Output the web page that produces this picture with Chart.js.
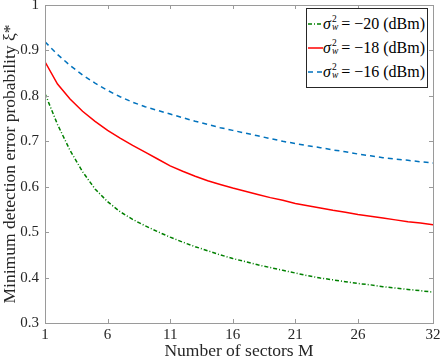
<!DOCTYPE html>
<html>
<head>
<meta charset="utf-8">
<script src="https://cdn.jsdelivr.net/npm/chart.js@4"></script>
<style>
  html, body { margin: 0; padding: 0; background: #fff; }
  #wrap { position: relative; width: 443px; height: 360px; }
  #legend {
    position: absolute; left: 306px; top: 8px; width: 120px; height: 78px;
    border: 1px solid #262626; background: #fff;
    font-family: "Liberation Serif", "DejaVu Serif", serif; font-size: 16px; color: #000;
  }
  .row { height: 24px; display: flex; align-items: center; white-space: nowrap; }
  .row:first-child { margin-top: 3px; }
  .row svg { margin-left: 1px; margin-right: 0; }
  .sym { font-style: italic; }
  .stack { display: inline-flex; flex-direction: column; font-size: 9.5px; line-height: 8px; vertical-align: middle; margin-left: 1px; margin-right: 3px; position: relative; top: -1px; }
  .stack i { font-style: italic; }
</style>
</head>
<body>
<div id="wrap">
  <canvas id="chart" width="443" height="360"></canvas>
  <div id="legend"></div>
</div>
<script>
// ====== DATA ======
const sectors = Array.from({ length: 32 }, (_, i) => i + 1); // M = 1..32
const xTicks = [1, 6, 11, 16, 21, 26, 32];

const noise20 = [0.805, 0.737, 0.680, 0.633, 0.595, 0.567, 0.545, 0.528, 0.514, 0.501,
                 0.489, 0.478, 0.468, 0.459, 0.450, 0.442, 0.435, 0.428, 0.422, 0.416,
                 0.410, 0.404, 0.399, 0.395, 0.391, 0.387, 0.384, 0.380, 0.377, 0.374,
                 0.371, 0.368];
const noise18 = [0.875, 0.826, 0.793, 0.766, 0.744, 0.724, 0.707, 0.691, 0.676, 0.661,
                 0.646, 0.634, 0.623, 0.613, 0.605, 0.597, 0.590, 0.583, 0.576, 0.570,
                 0.563, 0.558, 0.553, 0.548, 0.544, 0.539, 0.535, 0.531, 0.527, 0.523,
                 0.520, 0.516];
const noise16 = [0.919, 0.891, 0.867, 0.846, 0.828, 0.812, 0.798, 0.786, 0.776, 0.768,
                 0.760, 0.752, 0.744, 0.737, 0.730, 0.724, 0.718, 0.712, 0.706, 0.700,
                 0.695, 0.690, 0.686, 0.681, 0.677, 0.672, 0.668, 0.664, 0.661, 0.658,
                 0.655, 0.652];

const seriesLabels = ["−20", "−18", "−16"];
const seriesColors = ["#008000", "#ff0000", "#0072bd"];
const seriesDash = [[4, 2, 1, 2], [], [5, 4]];

// ====== HELPERS ======
const FONT = "'Liberation Serif', 'DejaVu Serif', serif";
const toPts = (vals) => vals.map((v, i) => ({ x: sectors[i], y: v }));

// MATLAB-like box with inward ticks
const boxPlugin = {
  id: "box",
  afterDraw(chart) {
    const { ctx, chartArea: a, scales } = chart;
    ctx.save();
    ctx.strokeStyle = "#9a9a9a";
    ctx.lineWidth = 1;
    ctx.strokeRect(a.left + 0.5, a.top + 0.5, a.right - a.left, a.bottom - a.top);
    const len = 4;
    ctx.beginPath();
    scales.x.ticks.forEach(t => {
      const px = Math.round(scales.x.getPixelForValue(t.value)) + 0.5;
      ctx.moveTo(px, a.bottom); ctx.lineTo(px, a.bottom - len);
      ctx.moveTo(px, a.top); ctx.lineTo(px, a.top + len);
    });
    scales.y.ticks.forEach(t => {
      const py = Math.round(scales.y.getPixelForValue(t.value)) + 0.5;
      ctx.moveTo(a.left, py); ctx.lineTo(a.left + len, py);
      ctx.moveTo(a.right, py); ctx.lineTo(a.right - len, py);
    });
    ctx.stroke();
    ctx.restore();
  }
};

// ====== CHART ======
new Chart(document.getElementById("chart"), {
  type: "line",
  data: {
    datasets: [noise20, noise18, noise16].map((vals, i) => ({
      label: seriesLabels[i],
      data: toPts(vals),
      borderColor: seriesColors[i],
      borderDash: seriesDash[i],
      borderWidth: 1.5,
      pointRadius: 0,
      tension: 0,
      fill: false
    }))
  },
  options: {
    responsive: false,
    animation: false,
    layout: { padding: { top: 5, right: 10, left: 0, bottom: 0 } },
    plugins: { legend: { display: false }, tooltip: { enabled: false } },
    scales: {
      x: {
        type: "linear",
        min: 1,
        max: 32,
        afterBuildTicks: (s) => { s.ticks = xTicks.map(v => ({ value: v })); },
        afterFit: (s) => { s.height = 37; s.paddingLeft = 0; s.paddingRight = 0; },
        grid: { display: false, drawTicks: false },
        border: { display: false },
        ticks: { color: "#262626", font: { family: FONT, size: 15 }, padding: 3, maxRotation: 0 },
        title: {
          display: true,
          text: "Number of sectors M",
          color: "#262626",
          font: { family: FONT, size: 17.5, lineHeight: 1 },
          padding: { top: 0, bottom: 0 }
        }
      },
      y: {
        min: 0.3,
        max: 1,
        afterFit: (s) => { s.width = 45; s.paddingTop = 0; s.paddingBottom = 0; },
        grid: { display: false, drawTicks: false },
        border: { display: false },
        ticks: {
          stepSize: 0.1,
          color: "#262626",
          font: { family: FONT, size: 15 },
          padding: 6,
          callback: (v) => String(Math.round(v * 10) / 10)
        },
        title: {
          display: true,
          text: "Minimum detection error probability ξ*",
          color: "#262626",
          font: { family: FONT, size: 17.5, lineHeight: 1 },
          padding: { top: 2, bottom: 0 }
        }
      }
    }
  },
  plugins: [boxPlugin]
});

// ====== LEGEND ======
function buildLegend() {
  const el = document.getElementById("legend");
  seriesLabels.forEach((lab, i) => {
    const row = document.createElement("div");
    row.className = "row";
    const dash = seriesDash[i].length ? seriesDash[i].join(" ") : "none";
    row.innerHTML =
      `<svg width="15" height="4"><line x1="0" y1="2" x2="15" y2="2" stroke="${seriesColors[i]}" stroke-width="1.5" stroke-dasharray="${dash}"/></svg>` +
      `<span class="sym">σ</span><span class="stack"><span>2</span><i>w</i></span>` +
      `<span>= ${lab} (dBm)</span>`;
    el.appendChild(row);
  });
}
buildLegend();
</script>
</body>
</html>
